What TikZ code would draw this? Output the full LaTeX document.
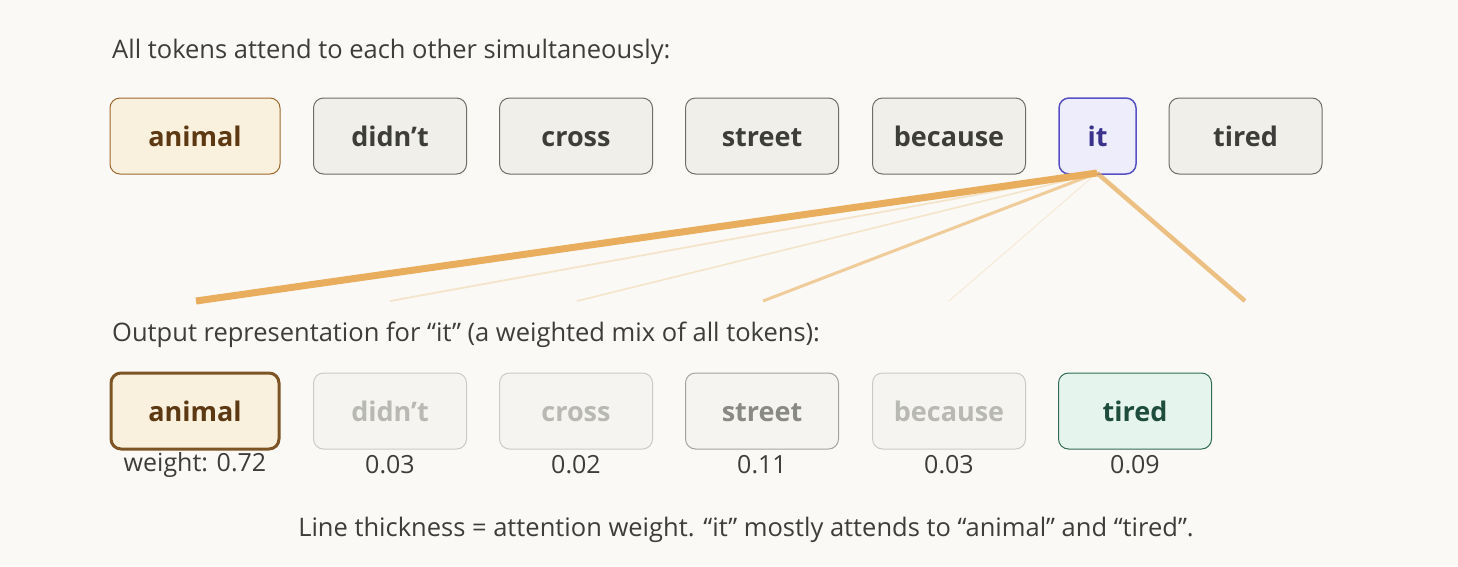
\documentclass[tikz,border=0pt]{standalone}
\usepackage{fontspec}
\setmainfont{Open Sans}
\usetikzlibrary{positioning}
\definecolor{bg}{HTML}{FAF9F5}
\definecolor{grayfill}{HTML}{F0EFEA}
\definecolor{grayline}{HTML}{6E6E69}
\definecolor{graytext}{HTML}{3D3D3A}
\definecolor{animfill}{HTML}{FAF0DE}
\definecolor{animline}{HTML}{9C6A2E}
\definecolor{animtext}{HTML}{5C3912}
\definecolor{itfill}{HTML}{EEEDFB}
\definecolor{itline}{HTML}{5650C2}
\definecolor{ittext}{HTML}{39338C}
\definecolor{tiredfill}{HTML}{E5F5EE}
\definecolor{tiredline}{HTML}{2F6A55}
\definecolor{tiredtext}{HTML}{1E4D3D}
\definecolor{fadefill}{HTML}{F5F4F0}
\definecolor{fadeline}{HTML}{CBCBC6}
\definecolor{fadetext}{HTML}{B9B9B4}
\definecolor{midline}{HTML}{A3A39E}
\definecolor{midtext}{HTML}{8A8A85}
\definecolor{attn}{HTML}{E8AE5E}
\tikzset{
  tok/.style={draw=grayline, fill=grayfill, text=graytext, rounded corners=10pt, line width=1pt,
    minimum height=76pt, font=\fontsize{27}{32}\selectfont\bfseries, inner sep=0pt,
    text height=20pt, text depth=0pt},
  lbl/.style={text=graytext, font=\fontsize{25.5}{29}\selectfont, inner sep=0pt},
  wlbl/.style={text=graytext, font=\fontsize{25}{28}\selectfont, inner sep=0pt},
  attnline/.style={draw=attn, line cap=butt},
}
\begin{document}
\begin{tikzpicture}[x=1pt,y=-1pt]
\fill[bg] (0,0) rectangle (1458,566);
\useasboundingbox (0,0) rectangle (1458,566);
\node[lbl, anchor=west] (title) at (112,52) {All tokens attend to each other simultaneously:};
% top row
\node[tok, draw=animline, fill=animfill, text=animtext, minimum width=170pt] (t1) at (195,136) {animal};
\node[tok, minimum width=153pt] (t2) at (390,136) {didn’t};
\node[tok, minimum width=153pt] (t3) at (576,136) {cross};
\node[tok, minimum width=153pt] (t4) at (762,136) {street};
\node[tok, minimum width=153pt] (t5) at (949,136) {because};
\node[tok, draw=itline, fill=itfill, text=ittext, minimum width=77pt, line width=1.5pt] (t6) at (1097.5,136) {it};
\node[tok, minimum width=153pt] (t7) at (1245.5,136) {tired};
% attention lines
\coordinate (src) at (1097,173);
\coordinate (e1) at (196,301);
\coordinate (e2) at (390,301);
\coordinate (e3) at (577,301);
\coordinate (e4) at (763,301);
\coordinate (e5) at (949,301);
\coordinate (e7) at (1245,301);
\draw[attnline, line width=1pt, opacity=0.2] (src) -- (e5);
\draw[attnline, line width=1.6pt, opacity=0.28] (src) -- (e3);
\draw[attnline, line width=1.8pt, opacity=0.28] (src) -- (e2);
\draw[attnline, line width=3pt, opacity=0.6] (src) -- (e4);
\draw[attnline, line width=4.5pt, opacity=0.75] (src) -- (e7);
\draw[attnline, line width=7pt] (src) -- (e1);
\node[lbl, anchor=west] (out) at (112,335) {Output representation for “it” (a weighted mix of all tokens):};
% bottom row
\node[tok, draw=animline!80!black, fill=animfill, text=animtext, minimum width=168pt, line width=3pt] (b1) at (195,411) {animal};
\node[tok, draw=fadeline, fill=fadefill, text=fadetext, minimum width=153pt] (b2) at (390,411) {didn’t};
\node[tok, draw=fadeline, fill=fadefill, text=fadetext, minimum width=153pt] (b3) at (576,411) {cross};
\node[tok, draw=midline, fill=fadefill, text=midtext, minimum width=153pt] (b4) at (762,411) {street};
\node[tok, draw=fadeline, fill=fadefill, text=fadetext, minimum width=153pt] (b5) at (949,411) {because};
\node[tok, draw=tiredline, fill=tiredfill, text=tiredtext, minimum width=153pt] (b7) at (1135,411) {tired};
\node[wlbl] (w1) at (195,465) {weight: 0.72};
\node[wlbl] (w2) at (390,465) {0.03};
\node[wlbl] (w3) at (576,465) {0.02};
\node[wlbl] (w4) at (762,465) {0.11};
\node[wlbl] (w5) at (949,465) {0.03};
\node[wlbl] (w7) at (1135,465) {0.09};
\node[lbl] (cap) at (746,530) {Line thickness = attention weight. “it” mostly attends to “animal” and “tired”.};
\end{tikzpicture}
\end{document}
